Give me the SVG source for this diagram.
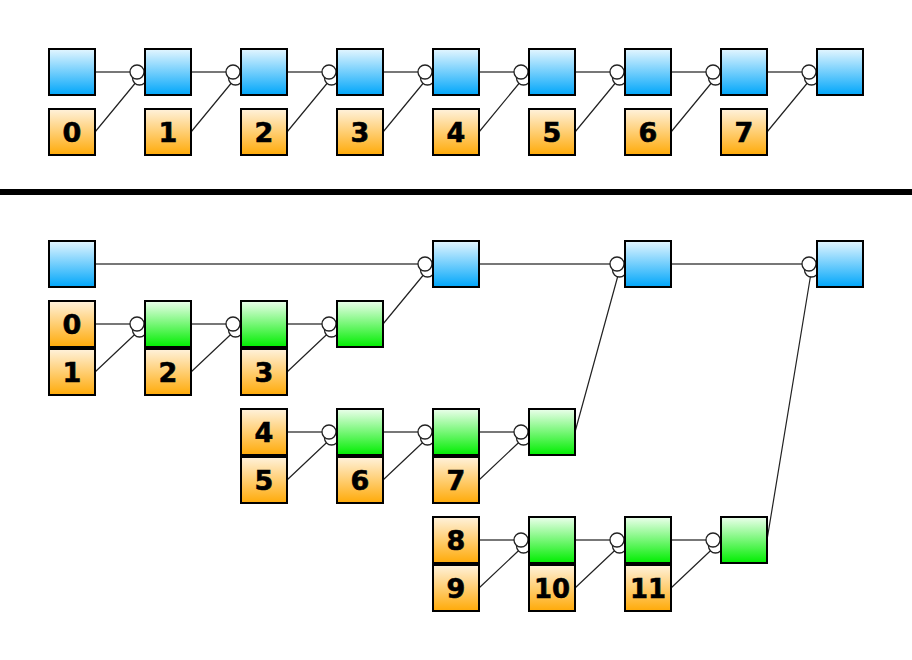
<svg xmlns="http://www.w3.org/2000/svg" width="912" height="660" viewBox="0 0 912 660">
<defs>
<linearGradient id="gb" x1="0" y1="0" x2="0" y2="1"><stop offset="0" stop-color="#e4f6ff"/><stop offset="1" stop-color="#00a6fa"/></linearGradient>
<linearGradient id="go" x1="0" y1="0" x2="0" y2="1"><stop offset="0" stop-color="#fff2dc"/><stop offset="1" stop-color="#ffaa08"/></linearGradient>
<linearGradient id="gg" x1="0" y1="0" x2="0" y2="1"><stop offset="0" stop-color="#ecffec"/><stop offset="1" stop-color="#00ee00"/></linearGradient>
</defs>
<style>
.b{fill:url(#gb);stroke:#000;stroke-width:2}
.o{fill:url(#go);stroke:#000;stroke-width:2}
.g{fill:url(#gg);stroke:#000;stroke-width:2}
.t{font-family:"DejaVu Sans",sans-serif;font-weight:bold;font-size:27px;text-anchor:middle;fill:#000;stroke:#000;stroke-width:0.6}
.h{stroke:#777;stroke-width:2.2;fill:none}
.d{stroke:#222;stroke-width:1.2;fill:none}
.c{fill:#fff;stroke:#222;stroke-width:1.3}
</style>
<rect x="0" y="0" width="912" height="660" fill="#fff"/>
<rect x="0" y="189" width="912" height="6" fill="#000"/>
<g id="connectors">
<path class="h" d="M95 72H137M191 72H233M287 72H329M383 72H425M479 72H521M575 72H617M671 72H713M767 72H809"/>
<path class="d" d="M95 132L139.5 78M191 132L235.5 78M287 132L331.5 78M383 132L427.5 78M479 132L523.5 78M575 132L619.5 78M671 132L715.5 78M767 132L811.5 78"/>
<path class="h" d="M95 264H425M479 264H617M671 264H809"/>
<path class="d" d="M383 324L427.5 270M575 432L619.5 270M767 540L811.5 270"/>
<path class="h" d="M95 324H137M191 324H233M287 324H329"/>
<path class="d" d="M95 372L139.5 330M191 372L235.5 330M287 372L331.5 330"/>
<path class="h" d="M287 432H329M383 432H425M479 432H521"/>
<path class="d" d="M287 480L331.5 438M383 480L427.5 438M479 480L523.5 438"/>
<path class="h" d="M479 540H521M575 540H617M671 540H713"/>
<path class="d" d="M479 588L523.5 546M575 588L619.5 546M671 588L715.5 546"/>
<g>
<circle class="c" cx="139.5" cy="78" r="7"/><circle class="c" cx="137" cy="72" r="7"/>
<circle class="c" cx="235.5" cy="78" r="7"/><circle class="c" cx="233" cy="72" r="7"/>
<circle class="c" cx="331.5" cy="78" r="7"/><circle class="c" cx="329" cy="72" r="7"/>
<circle class="c" cx="427.5" cy="78" r="7"/><circle class="c" cx="425" cy="72" r="7"/>
<circle class="c" cx="523.5" cy="78" r="7"/><circle class="c" cx="521" cy="72" r="7"/>
<circle class="c" cx="619.5" cy="78" r="7"/><circle class="c" cx="617" cy="72" r="7"/>
<circle class="c" cx="715.5" cy="78" r="7"/><circle class="c" cx="713" cy="72" r="7"/>
<circle class="c" cx="811.5" cy="78" r="7"/><circle class="c" cx="809" cy="72" r="7"/>
<circle class="c" cx="427.5" cy="270" r="7"/><circle class="c" cx="425" cy="264" r="7"/>
<circle class="c" cx="619.5" cy="270" r="7"/><circle class="c" cx="617" cy="264" r="7"/>
<circle class="c" cx="811.5" cy="270" r="7"/><circle class="c" cx="809" cy="264" r="7"/>
<circle class="c" cx="139.5" cy="330" r="7"/><circle class="c" cx="137" cy="324" r="7"/>
<circle class="c" cx="235.5" cy="330" r="7"/><circle class="c" cx="233" cy="324" r="7"/>
<circle class="c" cx="331.5" cy="330" r="7"/><circle class="c" cx="329" cy="324" r="7"/>
<circle class="c" cx="331.5" cy="438" r="7"/><circle class="c" cx="329" cy="432" r="7"/>
<circle class="c" cx="427.5" cy="438" r="7"/><circle class="c" cx="425" cy="432" r="7"/>
<circle class="c" cx="523.5" cy="438" r="7"/><circle class="c" cx="521" cy="432" r="7"/>
<circle class="c" cx="523.5" cy="546" r="7"/><circle class="c" cx="521" cy="540" r="7"/>
<circle class="c" cx="619.5" cy="546" r="7"/><circle class="c" cx="617" cy="540" r="7"/>
<circle class="c" cx="715.5" cy="546" r="7"/><circle class="c" cx="713" cy="540" r="7"/>
</g>
</g>
<g id="tb0"><rect class="b" x="49" y="49" width="46" height="46"/></g>
<g id="tb1"><rect class="b" x="145" y="49" width="46" height="46"/></g>
<g id="tb2"><rect class="b" x="241" y="49" width="46" height="46"/></g>
<g id="tb3"><rect class="b" x="337" y="49" width="46" height="46"/></g>
<g id="tb4"><rect class="b" x="433" y="49" width="46" height="46"/></g>
<g id="tb5"><rect class="b" x="529" y="49" width="46" height="46"/></g>
<g id="tb6"><rect class="b" x="625" y="49" width="46" height="46"/></g>
<g id="tb7"><rect class="b" x="721" y="49" width="46" height="46"/></g>
<g id="tb8"><rect class="b" x="817" y="49" width="46" height="46"/></g>
<g id="to0"><rect class="o" x="49" y="109" width="46" height="46"/><text class="t" x="72" y="142">0</text></g>
<g id="to1"><rect class="o" x="145" y="109" width="46" height="46"/><text class="t" x="168" y="142">1</text></g>
<g id="to2"><rect class="o" x="241" y="109" width="46" height="46"/><text class="t" x="264" y="142">2</text></g>
<g id="to3"><rect class="o" x="337" y="109" width="46" height="46"/><text class="t" x="360" y="142">3</text></g>
<g id="to4"><rect class="o" x="433" y="109" width="46" height="46"/><text class="t" x="456" y="142">4</text></g>
<g id="to5"><rect class="o" x="529" y="109" width="46" height="46"/><text class="t" x="552" y="142">5</text></g>
<g id="to6"><rect class="o" x="625" y="109" width="46" height="46"/><text class="t" x="648" y="142">6</text></g>
<g id="to7"><rect class="o" x="721" y="109" width="46" height="46"/><text class="t" x="744" y="142">7</text></g>
<g id="bb0"><rect class="b" x="49" y="241" width="46" height="46"/></g>
<g id="bb1"><rect class="b" x="433" y="241" width="46" height="46"/></g>
<g id="bb2"><rect class="b" x="625" y="241" width="46" height="46"/></g>
<g id="bb3"><rect class="b" x="817" y="241" width="46" height="46"/></g>
<g id="bo0"><rect class="o" x="49" y="301" width="46" height="46"/><text class="t" x="72" y="334">0</text></g>
<g id="bo1"><rect class="o" x="49" y="349" width="46" height="46"/><text class="t" x="72" y="382">1</text></g>
<g id="bg1"><rect class="g" x="145" y="301" width="46" height="46"/></g>
<g id="bo2"><rect class="o" x="145" y="349" width="46" height="46"/><text class="t" x="168" y="382">2</text></g>
<g id="bg2"><rect class="g" x="241" y="301" width="46" height="46"/></g>
<g id="bo3"><rect class="o" x="241" y="349" width="46" height="46"/><text class="t" x="264" y="382">3</text></g>
<g id="bg3"><rect class="g" x="337" y="301" width="46" height="46"/></g>
<g id="bo4"><rect class="o" x="241" y="409" width="46" height="46"/><text class="t" x="264" y="442">4</text></g>
<g id="bo5"><rect class="o" x="241" y="457" width="46" height="46"/><text class="t" x="264" y="490">5</text></g>
<g id="bg4"><rect class="g" x="337" y="409" width="46" height="46"/></g>
<g id="bo6"><rect class="o" x="337" y="457" width="46" height="46"/><text class="t" x="360" y="490">6</text></g>
<g id="bg5"><rect class="g" x="433" y="409" width="46" height="46"/></g>
<g id="bo7"><rect class="o" x="433" y="457" width="46" height="46"/><text class="t" x="456" y="490">7</text></g>
<g id="bg6"><rect class="g" x="529" y="409" width="46" height="46"/></g>
<g id="bo8"><rect class="o" x="433" y="517" width="46" height="46"/><text class="t" x="456" y="550">8</text></g>
<g id="bo9"><rect class="o" x="433" y="565" width="46" height="46"/><text class="t" x="456" y="598">9</text></g>
<g id="bg7"><rect class="g" x="529" y="517" width="46" height="46"/></g>
<g id="bo10"><rect class="o" x="529" y="565" width="46" height="46"/><text class="t" x="552" y="598" textLength="36" lengthAdjust="spacingAndGlyphs">10</text></g>
<g id="bg8"><rect class="g" x="625" y="517" width="46" height="46"/></g>
<g id="bo11"><rect class="o" x="625" y="565" width="46" height="46"/><text class="t" x="648" y="598" textLength="36" lengthAdjust="spacingAndGlyphs">11</text></g>
<g id="bg9"><rect class="g" x="721" y="517" width="46" height="46"/></g>
</svg>
